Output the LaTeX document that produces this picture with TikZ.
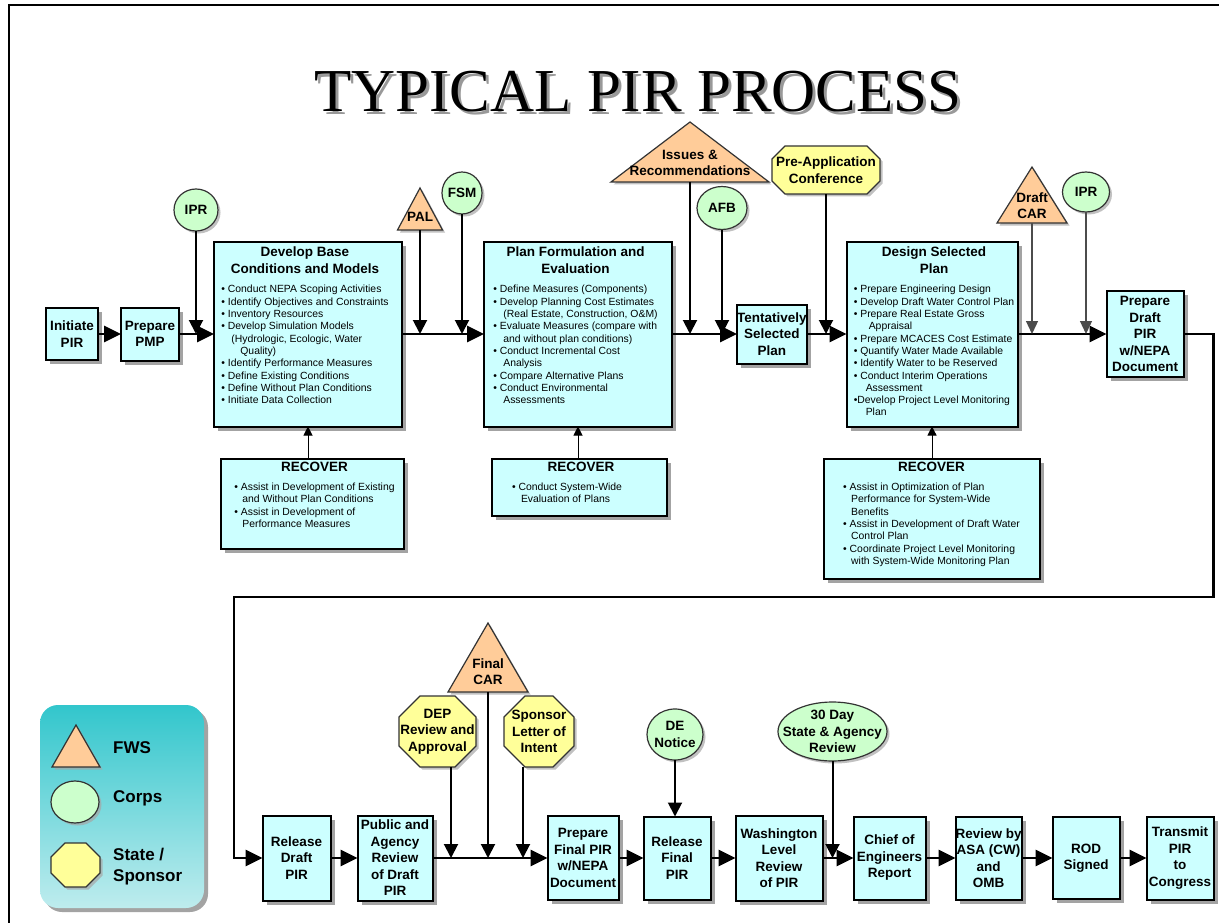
\documentclass[tikz,border=0pt]{standalone}
\usepackage{fontspec}
\setmainfont{Liberation Sans}
\newfontfamily\titlefont{Liberation Serif}
\usepackage{xcolor}
\usepackage{tikz}
\usetikzlibrary{
  shapes.geometric, shapes.misc,
  arrows.meta, positioning, shadows
}
\definecolor{boxcyan}{RGB}{204,255,255}
\definecolor{fwsorange}{RGB}{255,204,153}
\definecolor{corpsgreen}{RGB}{204,255,204}
\definecolor{stateyellow}{RGB}{255,255,153}
\definecolor{legtop}{RGB}{50,198,204}
\definecolor{legbot}{RGB}{190,236,238}
\newcommand{\bul}{\textbullet\ }
\newcommand{\tasks}[1]{{\fontsize{10.4}{12.3}\selectfont\mdseries
  \begin{tabular}[t]{@{}l@{}}#1\end{tabular}}}
% octagon round a named node, #2 = size of the cut corners
\newcommand{\octshape}[2]{%
  \filldraw[octfill] ([xshift=#2]#1.north west) -- ([xshift=-#2]#1.north east)
    -- ([yshift=-#2]#1.north east) -- ([yshift=#2]#1.south east)
    -- ([xshift=-#2]#1.south east) -- ([xshift=#2]#1.south west)
    -- ([yshift=#2]#1.south west) -- ([yshift=-#2]#1.north west) -- cycle;}

\begin{document}
\begin{tikzpicture}[
  x=1pt, y=-1pt,
  font=\fontsize{13.5}{16.5}\selectfont\bfseries,
  shd/.style={drop shadow={shadow xshift=4pt,shadow yshift=-4pt,fill=black!45,opacity=.8}},
  lightshd/.style={drop shadow={shadow xshift=2.5pt,shadow yshift=-2.5pt,fill=black!35,opacity=.7}},
  box/.style={rectangle, draw=black, line width=2pt, fill=boxcyan, align=center,
    inner sep=0pt, outer sep=0pt, shd},
  big/.style={box},
  boxtxt/.style={align=center, inner sep=0pt},
  fws/.style={isosceles triangle, isosceles triangle stretches, shape border rotate=90,
    draw=black!80, line width=1.2pt, fill=fwsorange, inner sep=0pt, outer sep=0pt, lightshd},
  corps/.style={ellipse, draw=black!80, line width=1.2pt, fill=corpsgreen,
    inner sep=0pt, outer sep=0pt, lightshd},
  stateoct/.style={rectangle, inner sep=0pt, outer sep=0pt},
  octfill/.style={draw=black!80, line width=1.2pt, fill=stateyellow, lightshd},
  lbl/.style={align=center, inner sep=0pt},
  legend/.style={rectangle, rounded corners=18pt, minimum width=164pt,
    minimum height=203pt, top color=legtop, bottom color=legbot, shd},
  legtxt/.style={font=\fontsize{17}{21}\selectfont\bfseries, align=left,
    anchor=west, inner sep=0pt},
  flow/.style={-{Triangle[length=17pt,width=16pt]}, line width=2.7pt},
  feed/.style={-{Triangle[length=14pt,width=14pt]}, line width=2pt},
  feedthin/.style={-{Triangle[length=13pt,width=12pt]}, line width=1.3pt, black!70},
  upflow/.style={-{Triangle[length=9pt,width=9pt]}, line width=1pt},
  ttl/.style={font=\titlefont\fontsize{61}{61}\selectfont, anchor=base, inner sep=0pt},
]
\useasboundingbox (0,0) rectangle (1219,923);
%% Frame and title
\draw[line width=2pt] (9,923) -- (9,5) -- (1219,5);
\node[ttl, text=black!40] (TTLs) at (641,115) {TYPICAL PIR PROCESS};
\node[ttl] (TTL) at (638,112) {TYPICAL PIR PROCESS};

%% Upper row
\node[box, minimum width=52pt, minimum height=52pt] (INIT) at (72,334) {Initiate\\PIR};
\node[box, minimum width=58pt, minimum height=53pt, right=23pt of INIT] (PMP) {Prepare\\PMP};
\node[big, minimum width=188pt, minimum height=185pt, right=35pt of PMP] (DEV) {};
\node[big, minimum width=188pt, minimum height=185pt, right=82pt of DEV] (PLAN) {};
\node[box, minimum width=69pt, minimum height=59pt, right=65pt of PLAN] (TENT) {Tentatively\\Selected\\Plan};
\node[big, minimum width=171pt, minimum height=185pt, right=40pt of TENT] (DSGN) {};
\node[box, minimum width=77pt, minimum height=86pt, right=89pt of DSGN] (DRAFT) {Prepare\\Draft\\PIR\\w/NEPA\\Document};

\node[boxtxt, below=5.5pt of DEV.north, xshift=-3pt] (DEVt) {Develop Base\\Conditions and Models\\[3pt]
  \tasks{\bul Conduct NEPA Scoping Activities\\
    \bul Identify Objectives and Constraints\\
    \bul Inventory Resources\\
    \bul Develop Simulation Models\\
    \hspace*{10pt}(Hydrologic, Ecologic, Water\\
    \hspace*{19pt}Quality)\\
    \bul Identify Performance Measures\\
    \bul Define Existing Conditions\\
    \bul Define Without Plan Conditions\\
    \bul Initiate Data Collection}};
\node[boxtxt, below=5.5pt of PLAN.north, xshift=-2.5pt] (PLANt) {Plan Formulation and\\Evaluation\\[3pt]
  \tasks{\bul Define Measures (Components)\\
    \bul Develop Planning Cost Estimates\\
    \hspace*{10pt}(Real Estate, Construction, O\&M)\\
    \bul Evaluate Measures (compare with\\
    \hspace*{10pt}and without plan conditions)\\
    \bul Conduct Incremental Cost\\
    \hspace*{10pt}Analysis\\
    \bul Compare Alternative Plans\\
    \bul Conduct Environmental\\
    \hspace*{10pt}Assessments}};
\node[boxtxt, below=5.5pt of DSGN.north, xshift=2pt] (DSGNt) {Design Selected\\Plan\\[3pt]
  \tasks{\bul Prepare Engineering Design\\
    \bul Develop Draft Water Control Plan\\
    \bul Prepare Real Estate Gross\\
    \hspace*{15pt}Appraisal\\
    \bul Prepare MCACES Cost Estimate\\
    \bul Quantify Water Made Available\\
    \bul Identify Water to be Reserved\\
    \bul Conduct Interim Operations\\
    \hspace*{12pt}Assessment\\
    \textbullet Develop Project Level Monitoring\\
    \hspace*{12pt}Plan}};

%% RECOVER
\node[big, minimum width=183pt, minimum height=90pt, below=32pt of DEV, xshift=4.5pt] (REC1) {};
\node[big, minimum width=175pt, minimum height=57pt, below=32pt of PLAN, xshift=1.5pt] (REC2) {};
\node[big, minimum width=216pt, minimum height=120pt, below=32pt of DSGN, xshift=-0.5pt] (REC3) {};
\node[boxtxt, below=3pt of REC1.north, xshift=2pt] (REC1t) {RECOVER\\[3pt]
  \tasks{\bul Assist in Development of Existing\\
    \hspace*{8pt}and Without Plan Conditions\\
    \bul Assist in Development of\\
    \hspace*{8pt}Performance Measures}};
\node[boxtxt, below=3pt of REC2.north, xshift=1.5pt] (REC2t) {RECOVER\\[3pt]
  \tasks{\bul Conduct System-Wide\hspace*{28pt}\\
    \hspace*{9pt}Evaluation of Plans}};
\node[boxtxt, below=3pt of REC3.north] (REC3t) {RECOVER\\[3pt]
  \tasks{\bul Assist in Optimization of Plan\\
    \hspace*{8pt}Performance for System-Wide\\
    \hspace*{8pt}Benefits\\
    \bul Assist in Development of Draft Water\\
    \hspace*{8pt}Control Plan\\
    \bul Coordinate Project Level Monitoring\\
    \hspace*{8pt}with System-Wide Monitoring Plan}};
\draw[upflow] (REC1.north -| DEV.south) -- (DEV.south);
\draw[upflow] (REC2.north -| PLAN.south) -- (PLAN.south);
\draw[upflow] (REC3.north -| DSGN.south) -- (DSGN.south);

%% Upper inputs
\node[corps, minimum width=44pt, minimum height=42pt] (IPRa) at (196,210) {};
\node[lbl] (IPRat) at (IPRa) {IPR};
\node[fws, minimum width=45pt, minimum height=42pt, anchor=lower side] (PAL) at (420,230) {};
\node[lbl, above=8pt of PAL.lower side] (PALt) {PAL};
\node[corps, minimum width=40pt, minimum height=42pt] (FSM) at (462,193) {};
\node[lbl] (FSMt) at (FSM) {FSM};
\node[fws, minimum width=158pt, minimum height=60pt, anchor=lower side] (ISS) at (690,182) {};
\node[lbl, above=6pt of ISS.lower side] (ISSt) {Issues \&\\Recommendations};
\node[corps, minimum width=50pt, minimum height=43pt] (AFB) at (722,208) {};
\node[lbl] (AFBt) at (AFB) {AFB};
\node[stateoct, minimum width=108pt, minimum height=48pt] (PRE) at (826,170) {};
\octshape{PRE}{13pt}
\node[lbl] (PREt) at (PRE) {Pre-Application\\Conference};
\node[fws, minimum width=70pt, minimum height=56pt, anchor=lower side] (DCAR) at (1032,223) {};
\node[lbl, above=4pt of DCAR.lower side] (DCARt) {Draft\\CAR};
\node[corps, minimum width=47pt, minimum height=40pt] (IPRb) at (1086,192) {};
\node[lbl] (IPRbt) at (IPRb) {IPR};

%% Upper flow
\draw[flow] (INIT) -- (PMP);
\draw[flow] (PMP) -- (DEV);
\draw[flow] (DEV) -- (PLAN);
\draw[flow] (PLAN) -- (TENT);
\draw[flow] (TENT) -- (DSGN);
\draw[flow] (DSGN) -- (DRAFT);
\draw[feed] (IPRa) -- (IPRa |- PMP.east);
\draw[feed] (PAL.lower side) -- (PAL.lower side |- DEV.east);
\draw[feed] (FSM) -- (FSM |- DEV.east);
\draw[feed] (ISS.lower side) -- (ISS.lower side |- PLAN.east);
\draw[feed] (AFB) -- (AFB |- PLAN.east);
\draw[feed] (PRE) -- (PRE |- TENT.east);
\draw[feedthin] (DCAR.lower side) -- (DCAR.lower side |- DSGN.east);
\draw[feedthin] (IPRb) -- (IPRb |- DSGN.east);

%% Lower row
\node[box, minimum width=68pt, minimum height=85pt] (RDR) at (296.5,858) {Release\\Draft\\PIR};
\node[box, minimum width=75pt, minimum height=85pt, right=27pt of RDR] (PUB) {Public and\\Agency\\Review\\of Draft\\PIR};
\node[box, minimum width=71pt, minimum height=84pt, right=115pt of PUB] (PFIN) {Prepare\\Final PIR\\w/NEPA\\Document};
\node[box, minimum width=67pt, minimum height=83pt, right=25pt of PFIN] (RFIN) {Release\\Final\\PIR};
\node[box, minimum width=87pt, minimum height=85pt, right=25pt of RFIN] (WASH) {Washington\\Level\\Review\\of PIR};
\node[box, minimum width=72pt, minimum height=83pt, right=31pt of WASH] (CHIEF) {Chief of\\Engineers\\Report};
\node[box, minimum width=66pt, minimum height=83pt, right=30pt of CHIEF] (ASA) {Review by\\ASA (CW)\\and\\OMB};
\node[box, minimum width=67pt, minimum height=82pt, right=31pt of ASA] (ROD) {ROD\\Signed};
\node[box, minimum width=67pt, minimum height=83pt, right=27pt of ROD] (TRANS) {Transmit\\PIR\\to\\Congress};

%% Lower inputs
\node[stateoct, minimum width=77pt, minimum height=71pt] (DEP) at (437.5,731.5) {};
\octshape{DEP}{21pt}
\node[lbl] (DEPt) at (DEP) {DEP\\Review and\\Approval};
\node[fws, minimum width=80pt, minimum height=69pt, anchor=lower side] (FCAR) at (488,692) {};
\node[lbl, above=7pt of FCAR.lower side] (FCARt) {Final\\CAR};
\node[stateoct, minimum width=70pt, minimum height=71pt] (LOI) at (539,731.5) {};
\octshape{LOI}{21pt}
\node[lbl] (LOIt) at (LOI) {Sponsor\\Letter of\\Intent};
\node[corps, minimum width=56pt, minimum height=51pt] (DEN) at (675,734.5) {};
\node[lbl] (DENt) at (DEN) {DE\\Notice};
\node[corps, minimum width=109pt, minimum height=59pt] (DAY) at (832.5,731.5) {};
\node[lbl] (DAYt) at (DAY) {30 Day\\State \& Agency\\Review};
\coordinate (DEPo) at ([xshift=13.5pt]DEP.south);
\coordinate (LOIo) at ([xshift=-16pt]LOI.south);

%% Lower flow
\coordinate (TURN) at (234,597);
\draw[flow] (DRAFT.east) -- ++(30,0) |- (TURN) |- (RDR.west);
\draw[flow] (RDR) -- (PUB);
\draw[flow] (PUB) -- (PFIN);
\draw[flow] (PFIN) -- (RFIN);
\draw[flow] (RFIN) -- (WASH);
\draw[flow] (WASH) -- (CHIEF);
\draw[flow] (CHIEF) -- (ASA);
\draw[flow] (ASA) -- (ROD);
\draw[flow] (ROD) -- (TRANS);
\draw[feed] (DEPo) -- (DEPo |- PUB.east);
\draw[feed] (FCAR.lower side) -- (FCAR.lower side |- PUB.east);
\draw[feed] (LOIo) -- (LOIo |- PUB.east);
\draw[feed] (DEN) -- (DEN |- RFIN.north);
\draw[feed] (DAY) -- (DAY |- WASH.east);

%% Legend
\node[legend] (LEG) at (122,806.5) {};
\node[fws, minimum width=48pt, minimum height=42pt, anchor=lower side] (LFWS) at (76,767) {};
\node[legtxt] (LFWSt) at (113,748) {FWS};
\node[corps, minimum width=48pt, minimum height=42pt] (LCRP) at (75,802) {};
\node[legtxt] (LCRPt) at (113,798) {Corps};
\node[stateoct, minimum width=49pt, minimum height=44pt] (LST) at (75.5,865) {};
\octshape{LST}{14pt}
\node[legtxt] (LSTt) at (113,867) {State /\\Sponsor};
\end{tikzpicture}
\end{document}
